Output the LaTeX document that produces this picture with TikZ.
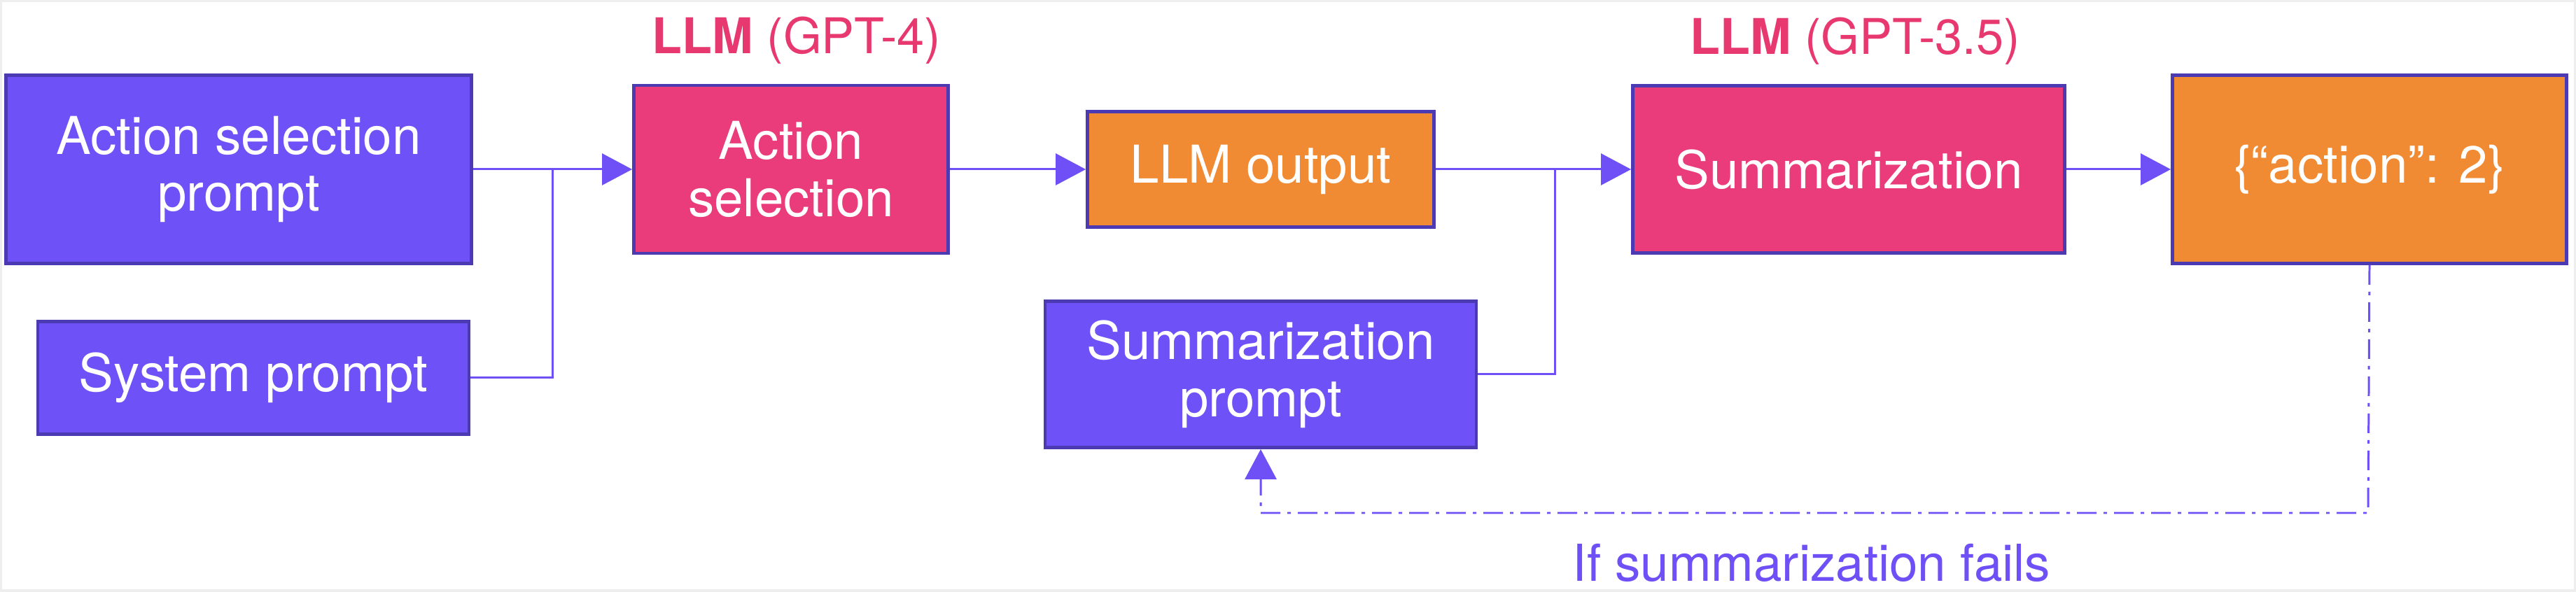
\documentclass[tikz,border=0pt]{standalone}
\usepackage{fontspec}
\setmainfont{TeX Gyre Heros}
\usetikzlibrary{arrows.meta,positioning,calc}
\definecolor{boxpurple}{RGB}{111,82,247}
\definecolor{boxedge}{RGB}{76,58,178}
\definecolor{llmpink}{RGB}{234,59,122}
\definecolor{outorange}{RGB}{240,138,51}
\definecolor{linkpurple}{RGB}{110,80,246}
\definecolor{labelpink}{RGB}{232,56,112}
\definecolor{framegray}{RGB}{238,238,238}

\begin{document}
\begin{tikzpicture}[>={Triangle[length=4.3mm,width=4.5mm]},
    box/.style={draw=boxedge,line width=1.4pt,text=white,align=center,inner sep=0pt,
      font=\fontsize{21.2}{23.2}\selectfont},
    prompt/.style={box,fill=boxpurple},
    llm/.style={box,fill=llmpink},
    result/.style={box,fill=outorange},
    lbl/.style={anchor=base,font=\fontsize{20}{24}\selectfont},
    link/.style={draw=linkpurple,line width=0.85pt},
    retry/.style={link,dash pattern=on 2.8mm off 1mm on 0.5mm off 1mm}]
    % frame
    \fill[framegray] (0,0) rectangle (36.8,8.46);
    \fill[white] (0.03,0.04) rectangle (36.77,8.43);
    % inputs to the first model
    \node[prompt,minimum width=6.65cm,minimum height=2.69cm] (asp) at (3.41,6.04) {Action selection\\prompt};
    \node[prompt,minimum width=6.16cm,minimum height=1.61cm] (sys) at (3.62,3.06) {System prompt};
    % first model and its output
    \node[llm,minimum width=4.49cm,minimum height=2.40cm] (act) at (11.30,6.04) {Action\\selection};
    \node[result,minimum width=4.95cm,minimum height=1.65cm] (out) at (18.01,6.04) {LLM output};
    \node[prompt,minimum width=6.16cm,minimum height=2.09cm] (sump) at (18.01,3.11) {Summarization\\prompt};
    % second model and final answer
    \node[llm,minimum width=6.17cm,minimum height=2.39cm] (summ) at (26.41,6.04) {Summarization};
    \node[result,minimum width=5.63cm,minimum height=2.69cm] (res) at (33.85,6.04) {\{``action'': 2\}};
    % model labels
    \node[lbl,text=labelpink] (gpt4) at (11.38,7.69) {\textbf{LLM} (GPT-4)};
    \node[lbl,text=labelpink] (gpt35) at (26.50,7.68) {\textbf{LLM} (GPT-3.5)};
    % connectors
    \coordinate (j1) at (7.89,6.04);
    \coordinate (j2) at (22.21,6.04);
    \coordinate (fb) at (33.83,1.13);
    \draw[link,->] (asp.east) -- (act.west);
    \draw[link] (sys.east) -| (j1);
    \draw[link,->] (act.east) -- (out.west);
    \draw[link,->] (out.east) -- (summ.west);
    \draw[link] (sump.east) -| (j2);
    \draw[link,->] (summ.east) -- (res.west);
    % retry loop
    \draw[retry,->] (res.south) -- (fb) -| (sump.south);
    \node[lbl,text=linkpurple,font=\fontsize{20.7}{24}\selectfont] (fail) at (25.88,0.15) {If summarization fails};
\end{tikzpicture}
\end{document}
